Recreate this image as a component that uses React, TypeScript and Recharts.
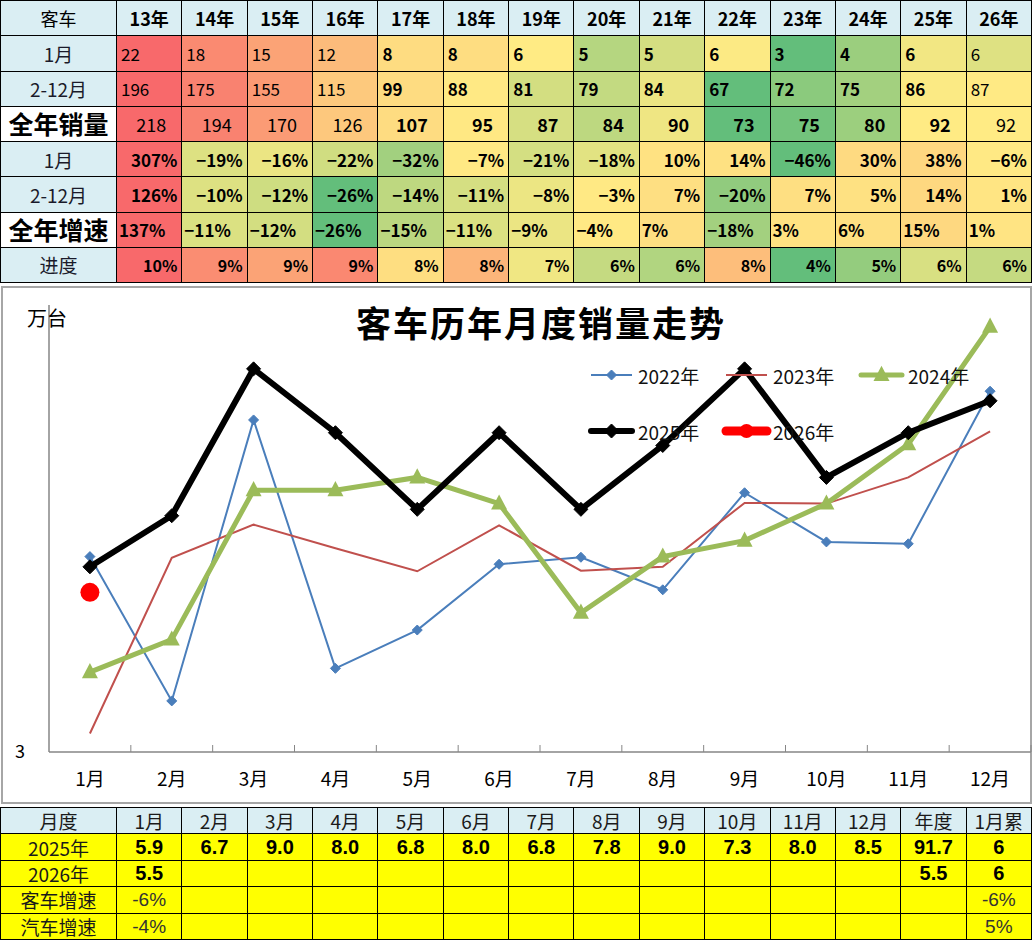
import React from 'react';
import { LineChart, Line, XAxis, YAxis, Legend } from 'recharts';

// ---------- data: top heat table ----------
const yearLabels = ['13年', '14年', '15年', '16年', '17年', '18年', '19年', '20年', '21年', '22年', '23年', '24年', '25年', '26年'];
const janSales = [22.3, 18.2, 15.1, 12.1, 8.0, 7.9, 6.2, 4.7, 5.3, 6.1, 3.1, 4.2, 5.9, 5.5];
const restSales = [196, 175, 155, 115, 99, 88, 81, 79, 84, 67, 72, 75, 86, 87];
const totalSales = [218, 194, 170, 126, 107, 95, 87, 84, 90, 73, 75, 80, 92, 92];
const janGrowth = [307, -19, -16, -22, -32, -7, -21, -18, 10, 14, -46, 30, 38, -6];
const restGrowth = [126, -10, -12, -26, -14, -11, -8, -3, 7, -20, 7, 5, 14, 1];
const totalGrowth = [137, -11, -12, -26, -15, -11, -9, -4, 7, -18, 3, 6, 15, 1];
const progress = [10.1, 9.3, 8.8, 9.4, 7.5, 8.4, 6.9, 6.0, 5.6, 8.2, 4.0, 5.0, 6.4, 6.0];

// ---------- data: line chart ----------
const months = ['1月', '2月', '3月', '4月', '5月', '6月', '7月', '8月', '9月', '10月', '11月', '12月'];
const sales2022 = [6.06, 3.80, 8.20, 4.31, 4.91, 5.94, 6.05, 5.54, 7.06, 6.29, 6.26, 8.65];
const sales2023 = [3.29, 6.04, 6.56, 6.19, 5.83, 6.55, 5.84, 5.90, 6.90, 6.89, 7.30, 8.02];
const sales2024 = [4.25, 4.76, 7.10, 7.10, 7.30, 6.89, 5.18, 6.06, 6.31, 6.89, 7.82, 9.66];
const sales2025 = [5.9, 6.7, 9.0, 8.0, 6.8, 8.0, 6.8, 7.8, 9.0, 7.3, 8.0, 8.5];
const sales2026 = [5.5];

// ---------- data: bottom table ----------
const annual2025 = 91.7;
const cum2025 = 6;
const annual2026 = 5.5;
const cum2026 = 6;
const busGrowthMonthly = [-6];
const busGrowthCum = -6;
const autoGrowthMonthly = [-4];
const autoGrowthCum = 5;

const FONT = '"Noto Sans CJK SC", "Noto Sans", sans-serif';

// ---------- Excel-like 3 colour scale ----------
const GREEN = [0x63, 0xbe, 0x7b];
const YELLOW = [0xff, 0xeb, 0x84];
const RED = [0xf8, 0x69, 0x6b];
function mix(a: number[], b: number[], t: number) {
  const c = a.map((v, i) => Math.round(v + (b[i] - v) * Math.max(0, Math.min(1, t))));
  return `rgb(${c[0]},${c[1]},${c[2]})`;
}
function scaleColor(values: number[], v: number) {
  const s = [...values].sort((a, b) => a - b);
  const n = s.length;
  const pos = (n - 1) * 0.5;
  const lo = Math.floor(pos);
  const mid = s[lo] + (s[Math.min(lo + 1, n - 1)] - s[lo]) * (pos - lo);
  const min = s[0];
  const max = s[n - 1];
  if (v <= mid) return mix(GREEN, YELLOW, mid === min ? 1 : (v - min) / (mid - min));
  return mix(YELLOW, RED, max === mid ? 0 : (v - mid) / (max - mid));
}

const fmtInt = (v: number) => String(Math.round(v));
const fmtPct = (v: number) => (v < 0 ? '\u2212' + Math.abs(Math.round(v)) : String(Math.round(v))) + '%';

type RowDef = {
  label: string;
  values: number[];
  fmt: (v: number) => string;
  align: 'left' | 'right';
  pad: number;
  size: number;
  boldRange: boolean;
  labelBold: boolean;
};

const HEADER_BG = '#DAEEF3';

function TopTable() {
  const rows: RowDef[] = [
    { label: '1月', values: janSales, fmt: fmtInt, align: 'left', pad: 4, size: 17, boldRange: true, labelBold: false },
    { label: '2-12月', values: restSales, fmt: fmtInt, align: 'left', pad: 4, size: 17, boldRange: true, labelBold: false },
    { label: '全年销量', values: totalSales, fmt: fmtInt, align: 'right', pad: 15, size: 18, boldRange: true, labelBold: true },
    { label: '1月', values: janGrowth, fmt: fmtPct, align: 'right', pad: 4, size: 17, boldRange: false, labelBold: false },
    { label: '2-12月', values: restGrowth, fmt: fmtPct, align: 'right', pad: 4, size: 17, boldRange: false, labelBold: false },
    { label: '全年增速', values: totalGrowth, fmt: fmtPct, align: 'left', pad: 2, size: 17, boldRange: false, labelBold: true },
    { label: '进度', values: progress, fmt: fmtPct, align: 'right', pad: 4, size: 16, boldRange: false, labelBold: false },
  ];
  const cell: React.CSSProperties = {
    borderRight: '1px solid #000',
    borderBottom: '1px solid #000',
    display: 'flex',
    alignItems: 'center',
    boxSizing: 'border-box',
    lineHeight: 1,
    overflow: 'hidden',
    whiteSpace: 'nowrap',
  };
  return (
    <div
      style={{
        position: 'absolute',
        left: 0,
        top: 0,
        width: 1032,
        height: 283,
        display: 'grid',
        gridTemplateColumns: '116px repeat(14, 1fr)',
        gridTemplateRows: 'repeat(8, 1fr)',
        borderTop: '1px solid #000',
        borderLeft: '1px solid #000',
        boxSizing: 'border-box',
        fontFamily: FONT,
        color: '#000',
      }}
    >
      <div style={{ ...cell, background: HEADER_BG, justifyContent: 'center', fontSize: 18 }}>客车</div>
      {yearLabels.map((y) => (
        <div key={y} style={{ ...cell, background: HEADER_BG, justifyContent: 'center', fontSize: 18, fontWeight: 700 }}>
          {y}
        </div>
      ))}
      {rows.map((r, ri) => (
        <React.Fragment key={ri}>
          <div
            style={{
              ...cell,
              background: r.labelBold ? '#FFFFFF' : HEADER_BG,
              justifyContent: 'center',
              fontSize: r.labelBold ? 25 : 19,
              fontWeight: r.labelBold ? 700 : 400,
              color: r.labelBold ? '#000' : '#1a1a2a',
            }}
          >
            {r.label}
          </div>
          {r.values.map((v, ci) => {
            const bold = r.boldRange ? ci >= 4 && ci <= 12 : true;
            return (
              <div
                key={ci}
                style={{
                  ...cell,
                  background: scaleColor(r.values, v),
                  justifyContent: r.align === 'left' ? 'flex-start' : 'flex-end',
                  paddingLeft: r.align === 'left' ? r.pad : 0,
                  paddingRight: r.align === 'right' ? r.pad : 0,
                  fontSize: r.size,
                  fontWeight: bold ? 700 : 400,
                }}
              >
                {r.fmt(v)}
              </div>
            );
          })}
        </React.Fragment>
      ))}
    </div>
  );
}

function BottomTable() {
  const header = ['月度', ...months, '年度', '1月累'];
  const pct = (v: number | undefined) => (v === undefined ? '' : `${v}%`);
  const rows = [
    { label: '2025年', kind: 'num', cells: [...months.map((_, i) => (sales2025[i] !== undefined ? sales2025[i].toFixed(1) : '')), annual2025.toFixed(1), String(cum2025)] },
    { label: '2026年', kind: 'num', cells: [...months.map((_, i) => (sales2026[i] !== undefined ? sales2026[i].toFixed(1) : '')), annual2026.toFixed(1), String(cum2026)] },
    { label: '客车增速', kind: 'pct', cells: [...months.map((_, i) => pct(busGrowthMonthly[i])), '', pct(busGrowthCum)] },
    { label: '汽车增速', kind: 'pct', cells: [...months.map((_, i) => pct(autoGrowthMonthly[i])), '', pct(autoGrowthCum)] },
  ];
  const cell: React.CSSProperties = {
    borderRight: '1px solid #000',
    borderBottom: '1px solid #000',
    display: 'flex',
    alignItems: 'center',
    justifyContent: 'center',
    boxSizing: 'border-box',
    lineHeight: 1,
    whiteSpace: 'nowrap',
    overflow: 'hidden',
  };
  return (
    <div
      style={{
        position: 'absolute',
        left: 0,
        top: 807,
        width: 1032,
        height: 133,
        display: 'grid',
        gridTemplateColumns: '116px repeat(14, 1fr)',
        gridTemplateRows: 'repeat(5, 1fr)',
        borderTop: '1px solid #000',
        borderLeft: '1px solid #000',
        boxSizing: 'border-box',
        fontFamily: FONT,
        color: '#1a1a1a',
      }}
    >
      {header.map((h, i) => (
        <div key={i} style={{ ...cell, background: HEADER_BG, fontSize: 19 }}>
          {h}
        </div>
      ))}
      {rows.map((r, ri) => (
        <React.Fragment key={ri}>
          <div style={{ ...cell, background: '#FFFF00', fontSize: 19 }}>{r.label}</div>
          {r.cells.map((c, ci) => (
            <div
              key={ci}
              style={{
                ...cell,
                background: '#FFFF00',
                fontFamily: r.kind === 'num' ? '"Liberation Sans", Arial, sans-serif' : '"Liberation Sans Narrow", "Liberation Sans", sans-serif',
                fontWeight: r.kind === 'num' ? 700 : 400,
                fontSize: r.kind === 'num' ? 20 : 19,
                color: r.kind === 'num' ? '#000' : '#333',
              }}
            >
              {c}
            </div>
          ))}
        </React.Fragment>
      ))}
    </div>
  );
}

// ---------- chart helpers ----------
const seriesStyle: Record<string, { color: string; width: number; marker: string; size: number; legendWidth: number }> = {
  y2022: { color: '#4A7EBB', width: 2, marker: 'diamond', size: 5, legendWidth: 2 },
  y2023: { color: '#C0504D', width: 2, marker: 'none', size: 0, legendWidth: 2 },
  y2024: { color: '#9BBB59', width: 5, marker: 'triangle', size: 8, legendWidth: 5 },
  y2025: { color: '#000000', width: 6, marker: 'diamond', size: 7, legendWidth: 6 },
  y2026: { color: '#FF0000', width: 6, marker: 'circle', size: 9.5, legendWidth: 9 },
};

function Marker({ kind, cx, cy, size, color }: { kind: string; cx: number; cy: number; size: number; color: string }) {
  if (kind === 'diamond') {
    return <path d={`M${cx},${cy - size}L${cx + size},${cy}L${cx},${cy + size}L${cx - size},${cy}Z`} fill={color} stroke={color} strokeWidth={1} />;
  }
  if (kind === 'triangle') {
    return <path d={`M${cx},${cy - size * 1.15}L${cx + size},${cy + size * 0.75}L${cx - size},${cy + size * 0.75}Z`} fill={color} />;
  }
  if (kind === 'circle') {
    return <circle cx={cx} cy={cy} r={size} fill={color} />;
  }
  return null;
}

const makeDot = (key: string) => (p: any) => {
  const st = seriesStyle[key];
  if (p.cx == null || p.cy == null || p.value == null || (Array.isArray(p.value) && p.value[1] == null)) {
    return <g key={`${key}-${p.index}`} />;
  }
  return (
    <g key={`${key}-${p.index}`}>
      <Marker kind={st.marker} cx={p.cx} cy={p.cy} size={st.size} color={st.color} />
    </g>
  );
};

const MonthTick = (props: any) => {
  const { x, y, payload } = props;
  const half = payload && payload.offset ? payload.offset : 40.9;
  return (
    <g>
      <line x1={x + half} y1={y} x2={x + half} y2={y - 7} stroke="#868686" strokeWidth={1} />
      <text x={x} y={y + 34} textAnchor="middle" fontSize={19} fill="#000" fontFamily={FONT}>
        {payload.value}
      </text>
    </g>
  );
};

const renderLegend = (props: any) => {
  const payload = (props.payload || []) as any[];
  return (
    <svg width={440} height={90} style={{ overflow: 'visible' }}>
      {payload.map((e, i) => {
        const st = seriesStyle[e.dataKey as string];
        const col = i % 3;
        const row = Math.floor(i / 3);
        const x0 = col * 135;
        const y0 = 14 + row * 56;
        const legendSize = st.marker === 'circle' ? 7 : st.marker === 'triangle' ? 8 : st.size;
        return (
          <g key={i}>
            <line x1={x0 + 5} y1={y0} x2={x0 + 46} y2={y0} stroke={st.color} strokeWidth={st.legendWidth} strokeLinecap={st.legendWidth > 4 ? 'round' : 'butt'} />
            <Marker kind={st.marker} cx={x0 + 25.5} cy={y0} size={legendSize} color={st.color} />
            <text x={x0 + 52} y={y0} dominantBaseline="central" fontSize={19} fill="#111" fontFamily={FONT}>
              {e.value}
            </text>
          </g>
        );
      })}
    </svg>
  );
};

const chartData = months.map((m, i) => ({
  month: m,
  y2022: sales2022[i],
  y2023: sales2023[i],
  y2024: sales2024[i],
  y2025: sales2025[i],
  y2026: sales2026[i] !== undefined ? sales2026[i] : null,
}));

function TrendChart() {
  return (
    <div style={{ position: 'absolute', left: 0, top: 286, width: 1032, height: 518 }}>
      <div
        style={{
          position: 'absolute',
          left: 1,
          top: 0,
          width: 1031,
          height: 518,
          border: '2px solid #A6A6A6',
          boxSizing: 'border-box',
          background: '#fff',
        }}
      />
      <LineChart width={1032} height={518} data={chartData} margin={{ top: 19, right: 1, bottom: 0, left: 0 }} style={{ position: 'absolute', left: 0, top: 0 }}>
        <XAxis dataKey="month" scale="band" axisLine={{ stroke: '#868686', strokeWidth: 1.5 }} tickLine={false} tickSize={0} tickMargin={0} tick={<MonthTick />} interval={0} height={52} />
        <YAxis domain={[3, 10]} ticks={[3]} width={49} axisLine={{ stroke: '#868686', strokeWidth: 1.5 }} tickLine={false} tickSize={0} tickMargin={24} tick={{ fontSize: 18, fill: '#000', fontFamily: FONT }} allowDataOverflow />
        <Legend layout="vertical" align="center" verticalAlign="middle" content={renderLegend} wrapperStyle={{ left: 586, top: 75, width: 440, height: 90 }} />
        <Line dataKey="y2022" name="2022年" stroke={seriesStyle.y2022.color} strokeWidth={seriesStyle.y2022.width} dot={makeDot('y2022')} activeDot={false} isAnimationActive={false} />
        <Line dataKey="y2023" name="2023年" stroke={seriesStyle.y2023.color} strokeWidth={seriesStyle.y2023.width} dot={false} activeDot={false} isAnimationActive={false} />
        <Line dataKey="y2024" name="2024年" stroke={seriesStyle.y2024.color} strokeWidth={seriesStyle.y2024.width} dot={makeDot('y2024')} activeDot={false} isAnimationActive={false} />
        <Line dataKey="y2025" name="2025年" stroke={seriesStyle.y2025.color} strokeWidth={seriesStyle.y2025.width} dot={makeDot('y2025')} activeDot={false} isAnimationActive={false} />
        <Line dataKey="y2026" name="2026年" stroke={seriesStyle.y2026.color} strokeWidth={seriesStyle.y2026.width} dot={makeDot('y2026')} activeDot={false} isAnimationActive={false} />
      </LineChart>
      <div style={{ position: 'absolute', left: 27, top: 22, fontSize: 20, lineHeight: '20px', fontFamily: FONT, color: '#000' }}>万台</div>
      <div
        style={{
          position: 'absolute',
          left: 0,
          width: 1082,
          top: 18,
          textAlign: 'center',
          fontSize: 35,
          lineHeight: '35px',
          fontWeight: 700,
          letterSpacing: 2,
          fontFamily: FONT,
          color: '#000',
        }}
      >
        客车历年月度销量走势
      </div>
    </div>
  );
}

export default function App() {
  return (
    <div style={{ position: 'absolute', left: 0, top: 0, width: 1034, height: 941, background: '#fff', fontFamily: FONT }}>
      <TopTable />
      <TrendChart />
      <BottomTable />
    </div>
  );
}
